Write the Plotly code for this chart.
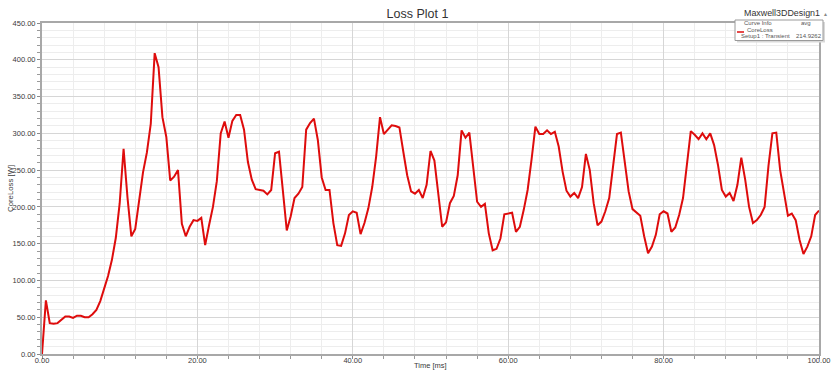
import plotly.graph_objects as go

# ---- data ----
time_ms = [
    0.0, 0.5, 1.0, 1.5, 2.0, 2.5, 3.0, 3.5, 4.0, 4.5,
    5.0, 5.5, 6.0, 6.5, 7.0, 7.5, 8.0, 8.5, 9.0, 9.5,
    10.0, 10.5, 11.0, 11.5, 12.0, 12.5, 13.0, 13.5, 14.0, 14.5,
    15.0, 15.5, 16.0, 16.5, 17.0, 17.5, 18.0, 18.5, 19.0, 19.5,
    20.0, 20.5, 21.0, 21.5, 22.0, 22.5, 23.0, 23.5, 24.0, 24.5,
    25.0, 25.5, 26.0, 26.5, 27.0, 27.5, 28.0, 28.5, 29.0, 29.5,
    30.0, 30.5, 31.0, 31.5, 32.0, 32.5, 33.0, 33.5, 34.0, 34.5,
    35.0, 35.5, 36.0, 36.5, 37.0, 37.5, 38.0, 38.5, 39.0, 39.5,
    40.0, 40.5, 41.0, 41.5, 42.0, 42.5, 43.0, 43.5, 44.0, 44.5,
    45.0, 45.5, 46.0, 46.5, 47.0, 47.5, 48.0, 48.5, 49.0, 49.5,
    50.0, 50.5, 51.0, 51.5, 52.0, 52.5, 53.0, 53.5, 54.0, 54.5,
    55.0, 55.5, 56.0, 56.5, 57.0, 57.5, 58.0, 58.5, 59.0, 59.5,
    60.0, 60.5, 61.0, 61.5, 62.0, 62.5, 63.0, 63.5, 64.0, 64.5,
    65.0, 65.5, 66.0, 66.5, 67.0, 67.5, 68.0, 68.5, 69.0, 69.5,
    70.0, 70.5, 71.0, 71.5, 72.0, 72.5, 73.0, 73.5, 74.0, 74.5,
    75.0, 75.5, 76.0, 76.5, 77.0, 77.5, 78.0, 78.5, 79.0, 79.5,
    80.0, 80.5, 81.0, 81.5, 82.0, 82.5, 83.0, 83.5, 84.0, 84.5,
    85.0, 85.5, 86.0, 86.5, 87.0, 87.5, 88.0, 88.5, 89.0, 89.5,
    90.0, 90.5, 91.0, 91.5, 92.0, 92.5, 93.0, 93.5, 94.0, 94.5,
    95.0, 95.5, 96.0, 96.5, 97.0, 97.5, 98.0, 98.5, 99.0, 99.5,
    100.0,
]

core_loss_w = [
    0, 73, 42, 41, 42, 46, 51, 51, 49, 52,
    52, 50, 50, 54, 60, 72, 88, 106, 128, 158,
    205, 279, 213, 160, 170, 210, 247, 274, 313, 409,
    390, 322, 295, 236, 241, 250, 177, 160, 173, 182,
    181, 185, 148, 175, 200, 235, 300, 316, 294, 317,
    325, 325, 305, 261, 237, 224, 223, 222, 217, 223,
    273, 275, 222, 168, 187, 212, 218, 227, 305, 314,
    320, 291, 240, 223, 223, 178, 148, 147, 164, 189,
    194, 192, 163, 178, 198, 227, 268, 322, 299, 305,
    311, 310, 308, 275, 243, 221, 218, 223, 212, 230,
    276, 263, 214, 173, 179, 205, 215, 243, 304, 294,
    301, 250, 207, 200, 204, 164, 141, 143, 157, 190,
    191, 192, 166, 173, 196, 223, 264, 309, 299, 299,
    304, 299, 302, 282, 248, 222, 214, 219, 212, 227,
    272, 250, 205, 175, 180, 194, 212, 252, 299, 301,
    264, 221, 197, 192, 188, 160, 137, 146, 162, 190,
    194, 191, 166, 172, 189, 212, 260, 303, 298, 292,
    300, 292, 300, 284, 257, 223, 214, 219, 208, 230,
    267, 237, 200, 178, 182, 189, 200, 256, 300, 301,
    250, 221, 188, 191, 182, 155, 136, 146, 160, 189,
    195,
]

title_text = "Loss Plot 1"
x_title = "Time [ms]"
y_title = "CoreLoss [W]"
design_name = "Maxwell3DDesign1"
legend_header = ["Curve Info", "avg"]
legend_curve = ["CoreLoss", "Setup1 : Transient"]
avg_label = "214.9262"

# ---- figure ----
W, H = 835, 373
L, R, T, B = 42, 16, 23, 19
PW, PH = W - L - R, H - T - B

def px(xp):
    return (xp - L) / PW

def py(yp):
    return (H - B - yp) / PH

FONT = "Liberation Sans, Arial, sans-serif"
TXT = "#3a3a3a"
RED = "#de0c0c"

fig = go.Figure()
fig.add_trace(go.Scatter(
    x=time_ms, y=core_loss_w, mode="lines",
    line=dict(color=RED, width=2),
    showlegend=False, hoverinfo="x+y",
))

axis_common = dict(
    automargin=False,
    showline=True, linecolor="#a8a8a8", linewidth=2, mirror=True,
    zeroline=False, ticks="outside", ticklen=3, tickcolor="#8a8a8a",
    tickfont=dict(family=FONT, size=7.5, color=TXT),
    tickformat=".2f", gridcolor="#d6d6d6", gridwidth=1,
)

fig.update_layout(
    width=W, height=H, autosize=False,
    margin=dict(l=L, r=R, t=T, b=B, pad=0, autoexpand=False),
    paper_bgcolor="white", plot_bgcolor="white",
    font=dict(family=FONT, color=TXT),
    xaxis=dict(range=[0, 100], dtick=20, tick0=0, ticklabelstandoff=-5,
               minor=dict(dtick=4, showgrid=True, gridcolor="#ededed",
                          ticks="outside", ticklen=3, tickcolor="#9a9a9a"),
               **axis_common),
    yaxis=dict(range=[0, 450], dtick=50, tick0=0,
               minor=dict(dtick=10, showgrid=True, gridcolor="#ededed",
                          ticks="outside", ticklen=3, tickcolor="#9a9a9a"),
               **axis_common),
    title=dict(text=title_text, x=0.5, xref="container", xanchor="center",
               y=1 - 13.5 / H, yref="container", yanchor="middle",
               font=dict(family=FONT, size=12.5, color="#333333")),
)

ann = []
ann.append(dict(text=x_title, x=px(431), y=py(365.5), xref="paper", yref="paper",
                showarrow=False, xanchor="center", yanchor="middle",
                font=dict(family=FONT, size=7.5, color=TXT)))
ann.append(dict(text=y_title, x=px(10), y=py(189), xref="paper", yref="paper",
                showarrow=False, xanchor="center", yanchor="middle", textangle=-90,
                font=dict(family=FONT, size=7.8, color=TXT)))
ann.append(dict(text=design_name, x=px(782), y=py(13), xref="paper", yref="paper",
                showarrow=False, xanchor="center", yanchor="middle",
                font=dict(family=FONT, size=8.9, color="#333333")))
ann.append(dict(text="\u25b2", x=px(826), y=py(14), xref="paper", yref="paper",
                showarrow=False, xanchor="center", yanchor="middle",
                font=dict(family=FONT, size=5, color="#888888")))

small = dict(family=FONT, size=6, color="#555555")
rows = [(legend_header[0], 757.5, 23.4), (legend_header[1], 806, 23.4),
        (legend_curve[0], 759.5, 29.6), (legend_curve[1], 765, 35.8),
        (avg_label, 808.5, 35.8)]
for txt, xx, yy in rows:
    ann.append(dict(text=txt, x=px(xx), y=py(yy), xref="paper", yref="paper",
                    showarrow=False, xanchor="center", yanchor="middle", font=small,
                    borderpad=0))
fig.update_layout(annotations=ann)

shapes = [
    # legend shadow
    dict(type="rect", xref="paper", yref="paper",
         x0=px(737), x1=px(825), y0=py(42.5), y1=py(22),
         fillcolor="#d9d9d9", line=dict(width=0), layer="above"),
    # legend box
    dict(type="rect", xref="paper", yref="paper",
         x0=px(735), x1=px(823), y0=py(40.5), y1=py(20),
         fillcolor="white", line=dict(color="#9a9a9a", width=1), layer="above"),
    # legend line sample
    dict(type="line", xref="paper", yref="paper",
         x0=px(737), x1=px(744), y0=py(32), y1=py(32),
         line=dict(color=RED, width=1.5), layer="above"),
]
fig.update_layout(shapes=shapes)

fig.write_html("out.html")
